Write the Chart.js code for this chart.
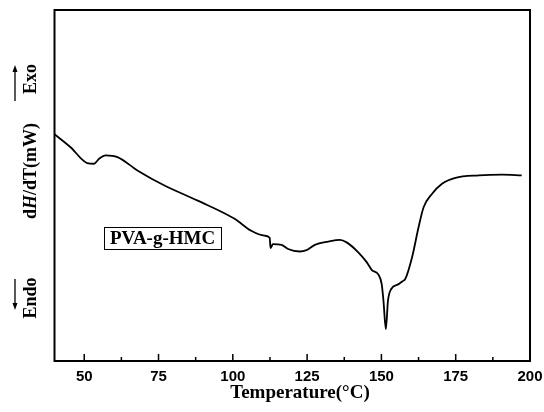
<!DOCTYPE html>
<html>
<head>
<meta charset="utf-8">
<script src="https://cdn.jsdelivr.net/npm/chart.js@4.4.1/dist/chart.umd.min.js"></script>
<style>
  html, body { margin: 0; padding: 0; background: #fff; }
  #wrap { width: 544px; height: 412px; }
</style>
</head>
<body>
<div id="wrap"><canvas id="dsc" width="544" height="412"></canvas></div>
<script>
// DSC curve of PVA-g-HMC
const temperature = [40, 45.4, 51, 53.3, 55, 57.2, 61.2, 67.9, 77, 88.2, 100.6, 106.2, 110.7, 112.4,
  112.7, 113.5, 116.4, 118.6, 122.5, 124.8, 127.6, 132.1, 136, 138.3, 142.3, 145.1, 146.8, 149,
  150.1, 150.7, 151.5, 152.2, 153.3, 155.8, 157.4, 158, 160.3, 162.5, 164.2, 167, 170.4, 174.9,
  182.8, 190.7, 197.2];
const heatFlow = [6.46, 6.09, 5.64, 5.62, 5.76, 5.86, 5.81, 5.43, 5.00, 4.57, 4.05, 3.71, 3.57, 3.51,
  3.22, 3.33, 3.31, 3.19, 3.12, 3.16, 3.31, 3.40, 3.45, 3.38, 3.09, 2.81, 2.59, 2.46,
  2.19, 1.71, 0.91, 1.71, 2.05, 2.19, 2.29, 2.33, 2.95, 3.81, 4.38, 4.76, 5.05, 5.22,
  5.29, 5.31, 5.29];
const majorTicks = [50, 75, 100, 125, 150, 175, 200];
const minorTicks = [62.5, 87.5, 112.5, 137.5, 162.5, 187.5];

const serif = '"Liberation Serif", "Times New Roman", serif';

const decor = {
  id: 'decor',
  afterDraw(chart) {
    const ctx = chart.ctx;
    const a = chart.chartArea;
    const x = chart.scales.x;
    ctx.save();
    ctx.strokeStyle = '#000';
    ctx.fillStyle = '#000';

    // frame
    ctx.lineWidth = 2;
    ctx.strokeRect(a.left, a.top, a.right - a.left, a.bottom - a.top);

    // inward ticks
    ctx.lineWidth = 1.5;
    ctx.beginPath();
    majorTicks.forEach(v => {
      const px = x.getPixelForValue(v);
      ctx.moveTo(px, a.bottom); ctx.lineTo(px, a.bottom - 7);
    });
    minorTicks.forEach(v => {
      const px = x.getPixelForValue(v);
      ctx.moveTo(px, a.bottom); ctx.lineTo(px, a.bottom - 4);
    });
    ctx.stroke();

    // x title
    ctx.font = 'bold 19px ' + serif;
    ctx.textAlign = 'center';
    ctx.textBaseline = 'middle';
    ctx.fillText('Temperature(\u00B0C)', 300, 393);

    // y title, rotated
    const vtext = (parts, cx, cy) => {
      ctx.save();
      ctx.translate(cx, cy);
      ctx.rotate(-Math.PI / 2);
      ctx.textAlign = 'left';
      ctx.textBaseline = 'middle';
      let w = 0;
      parts.forEach(p => { ctx.font = p[1]; w += ctx.measureText(p[0]).width; });
      let pos = -w / 2;
      parts.forEach(p => {
        ctx.font = p[1];
        ctx.fillText(p[0], pos, 0);
        pos += ctx.measureText(p[0]).width;
      });
      ctx.restore();
    };
    const b = 'bold 18px ' + serif;
    const bi = 'italic bold 18px ' + serif;
    vtext([['d', b], ['H', bi], ['/dT(mW)', b]], 31, 171);
    vtext([['Exo', b]], 31, 79);
    vtext([['Endo', b]], 31, 298);

    // arrows
    ctx.lineWidth = 1.3;
    ctx.beginPath();
    ctx.moveTo(15, 101); ctx.lineTo(15, 70);
    ctx.moveTo(15, 279); ctx.lineTo(15, 305);
    ctx.stroke();
    ctx.beginPath();
    ctx.moveTo(15, 65); ctx.lineTo(12.5, 72); ctx.lineTo(17.5, 72); ctx.closePath();
    ctx.moveTo(15, 310); ctx.lineTo(12.5, 303); ctx.lineTo(17.5, 303); ctx.closePath();
    ctx.fill();

    // sample label box
    ctx.lineWidth = 1;
    ctx.strokeRect(104.5, 227.5, 117, 22);
    ctx.font = 'bold 19px ' + serif;
    ctx.textAlign = 'left';
    ctx.textBaseline = 'middle';
    ctx.fillText('PVA-g-HMC', 110, 239.5);
    ctx.restore();
  }
};

new Chart(document.getElementById('dsc'), {
  type: 'line',
  data: {
    datasets: [{
      data: temperature.map((t, i) => ({ x: t, y: heatFlow[i] })),
      borderColor: '#000',
      borderWidth: 1.8,
      pointRadius: 0,
      cubicInterpolationMode: 'monotone',
      fill: false
    }]
  },
  options: {
    responsive: false,
    animation: false,
    layout: { padding: { left: 54.5, right: 14, top: 10, bottom: 19 } },
    plugins: { legend: { display: false }, tooltip: { enabled: false } },
    scales: {
      x: {
        type: 'linear',
        min: 40,
        max: 200,
        afterBuildTicks: s => { s.ticks = majorTicks.map(v => ({ value: v })); },
        afterFit: s => { s.paddingLeft = 0; s.paddingRight = 0; },
        grid: { display: false, drawTicks: false },
        border: { display: false },
        ticks: {
          color: '#000',
          padding: 7,
          maxRotation: 0,
          autoSkip: false,
          font: { family: '"Liberation Sans", Arial, sans-serif', size: 15, weight: 'bold' }
        }
      },
      y: { display: false, min: 0, max: 10 }
    }
  },
  plugins: [decor]
});
</script>
</body>
</html>
